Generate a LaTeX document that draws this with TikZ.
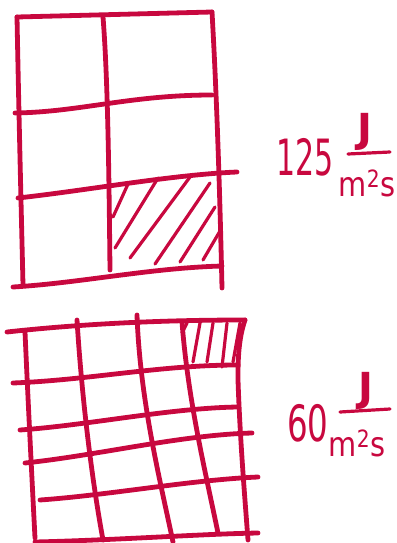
\documentclass[tikz,border=0pt]{standalone}
\usepackage{fontspec}
\setmainfont{DejaVu Sans}
\definecolor{ink}{HTML}{C8083F}
\begin{document}
\begin{tikzpicture}[x=1pt,y=-1pt,
  pen/.style={draw=ink,line width=4.8pt,line cap=round,line join=round},
  hatch/.style={draw=ink,line width=3.2pt,line cap=round},
  lbl/.style={text=ink,font=\fontsize{50}{50}\selectfont,inner sep=0pt},
  jay/.style={text=ink,font=\fontsize{40}{40}\selectfont\bfseries,inner sep=0pt,anchor=north},
  unit/.style={text=ink,font=\fontsize{34}{34}\selectfont,inner sep=0pt},
  bar/.style={draw=ink,line width=3.2pt,line cap=round}]
\useasboundingbox (0,0) rectangle (396,543);
% ---- top grid ----
\draw[pen] (17,17) -- (212,12);
\draw[pen] (17,17) .. controls (19,120) and (21,200) .. (23,285);
\draw[pen] (212,12) .. controls (217,100) and (220,200) .. (222,288);
\draw[pen] (103,17) .. controls (108,80) and (109,180) .. (110,270);
\draw[pen] (15,113) .. controls (80,112) and (130,95) .. (212,95);
\draw[pen] (18,198) .. controls (90,190) and (170,175) .. (237,172);
\draw[pen] (13,287) .. controls (80,283) and (150,268) .. (222,266);
\draw[hatch] (113,217) -- (128,184);
\draw[hatch] (115,248) -- (158,178);
\draw[hatch] (130,258) -- (190,177);
\draw[hatch] (155,264) -- (210,183);
\draw[hatch] (180,262) -- (215,207);
\draw[hatch] (203,260) -- (220,231);
% ---- bottom grid ----
\draw[pen] (7,332) .. controls (80,324) and (160,320) .. (245,320);
\draw[pen] (25,332) .. controls (28,400) and (32,480) .. (35,538);
\draw[pen] (77,320) .. controls (82,400) and (92,480) .. (103,540);
\draw[pen] (137,315) .. controls (140,400) and (160,480) .. (173,542);
\draw[pen] (182,322) .. controls (188,400) and (205,470) .. (218,533);
\draw[pen] (245,320) .. controls (238,340) and (238,363) .. (238,380) .. controls (240,440) and (245,500) .. (248,540);
\draw[pen] (13,383) .. controls (90,380) and (160,365) .. (238,365);
\draw[pen] (20,430) .. controls (90,425) and (170,408) .. (238,407);
\draw[pen] (25,463) .. controls (100,455) and (180,435) .. (252,433);
\draw[pen] (40,500) .. controls (110,495) and (190,480) .. (258,477);
\draw[pen] (35,542) .. controls (120,540) and (200,534) .. (258,533);
\draw[hatch] (182,333) -- (187,323);
\draw[hatch] (193,362) -- (200,323);
\draw[hatch] (207,362) -- (213,323);
\draw[hatch] (222,367) -- (227,323);
\draw[hatch] (233,362) -- (240,323);
% ---- labels ----
\node[lbl] (n125) at (305,157) {\scalebox{0.6}[1]{125}};
\node[jay] (j1) at (365,113) {J};
\draw[bar] (348,154) -- (390,152);
\node[unit] (u1) at (367,183) {\scalebox{0.85}[1]{m\textsuperscript{2}s}};
\node[lbl] (n60) at (308,423) {\scalebox{0.65}[1]{60}};
\node[jay] (j2) at (366,372) {J};
\draw[bar] (340,412) -- (390,409);
\node[unit] (u2) at (357,443) {\scalebox{0.85}[1]{m\textsuperscript{2}s}};
\end{tikzpicture}
\end{document}
